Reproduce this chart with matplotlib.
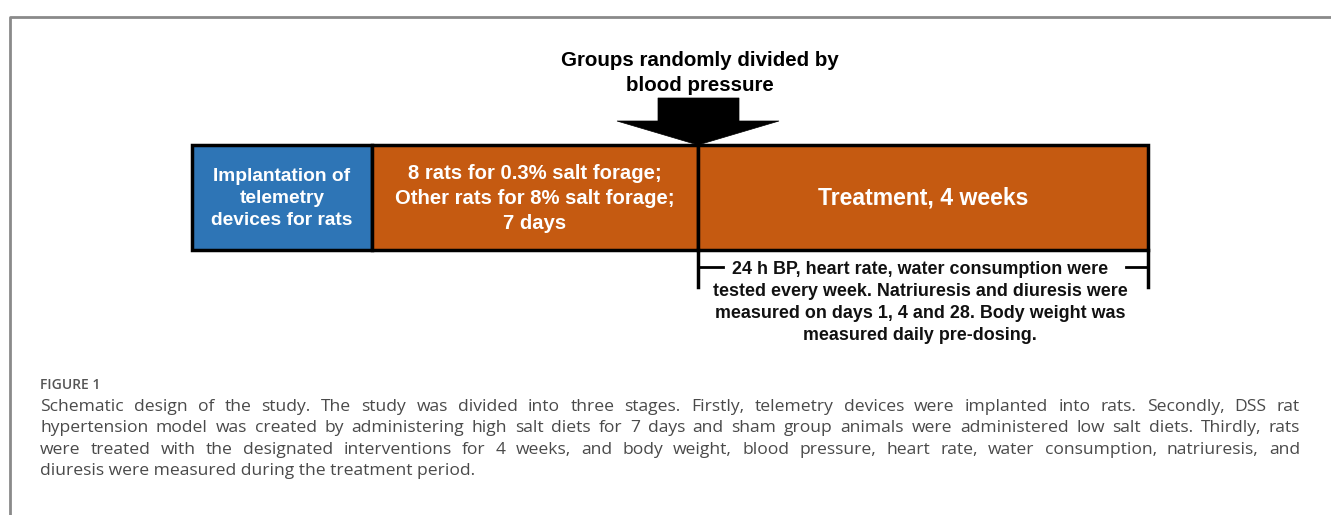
import matplotlib
matplotlib.use('Agg')
import matplotlib.pyplot as plt
from matplotlib.patches import Rectangle, Polygon

# stages of the study (left edge, right edge in px, label, colour)
stage_labels = ['Implantation of\ntelemetry\ndevices for rats',
                '8 rats for 0.3% salt forage;\nOther rats for 8% salt forage;\n7 days',
                'Treatment, 4 weeks']
stage_edges = [192, 372, 698, 1148]
stage_colors = ['#2E75B6', '#C55A11', '#C55A11']
stage_fontsize = [13.8, 14.6, 16.6]

title_text = 'Groups randomly divided by\nblood pressure'
bracket_text = ['24 h BP, heart rate, water consumption were',
                'tested every week. Natriuresis and diuresis were',
                'measured on days 1, 4 and 28. Body weight was',
                'measured daily pre-dosing.']
caption_head = 'FIGURE 1'
caption_lines = [
    'Schematic design of the study. The study was divided into three stages. Firstly, telemetry devices were implanted into rats. Secondly, DSS rat',
    'hypertension model was created by administering high salt diets for 7 days and sham group animals were administered low salt diets. Thirdly, rats',
    'were treated with the designated interventions for 4 weeks, and body weight, blood pressure, heart rate, water consumption, natriuresis, and',
    'diuresis were measured during the treatment period.']

W, H = 1331, 515
fig = plt.figure(figsize=(W / 100, H / 100), dpi=100)
ax = fig.add_axes([0, 0, 1, 1])
ax.set_xlim(0, W)
ax.set_ylim(H, 0)
ax.axis('off')

# page frame
ax.plot([9.5, 9.5, W], [H, 16.5, 16.5], color='#8a8a8a', lw=2, solid_capstyle='butt')

bold = dict(family='Liberation Sans', weight='bold')

# title and arrow
ax.text(700, 73, title_text, ha='center', va='center', fontsize=14.8,
        linespacing=1.38, color='black', **bold)
ax.add_patch(Polygon([[658, 98], [739, 98], [739, 121], [779, 121], [698, 145],
                      [617, 121], [658, 121]], closed=True, fc='black', ec='black', lw=0.5))

# stage boxes
top, bot = 145, 250
for i, lab in enumerate(stage_labels):
    x0, x1 = stage_edges[i], stage_edges[i + 1]
    ax.add_patch(Rectangle((x0, top), x1 - x0, bot - top, fc=stage_colors[i],
                           ec='black', lw=2.5, zorder=2))
    ax.text((x0 + x1) / 2, (top + bot) / 2 + 1, lab, ha='center', va='center',
            fontsize=stage_fontsize[i], color='white', linespacing=1.38, zorder=3, **bold)

# bracket under treatment
bx0, bx1 = stage_edges[2], stage_edges[3]
ax.plot([bx0, bx0], [bot, 287], color='black', lw=2.5)
ax.plot([bx1, bx1], [bot, 287], color='black', lw=2.5)
ax.plot([bx0, 723], [267, 267], color='black', lw=2)
ax.plot([1126, bx1], [267, 267], color='black', lw=2)
for i, line in enumerate(bracket_text):
    ax.text(920, 270 + i * 22, line, ha='center', va='center', fontsize=12.9,
            color='#111111', **bold)

# caption
cap = dict(family='Open Sans', color='#4a4a4a', fontsize=12.6)
ax.text(40, 385, caption_head, ha='left', va='center', family='Open Sans',
        weight='semibold', color='#555555', fontsize=10)

renderer = fig.canvas.get_renderer()
left, right = 40, 1300
for i, line in enumerate(caption_lines):
    y = 407 + i * 21.3
    words = line.split(' ')
    if i == len(caption_lines) - 1:
        ax.text(left, y, line, ha='left', va='center', **cap)
        continue
    arts = [ax.text(0, y, w, ha='left', va='center', **cap) for w in words]
    widths = [a.get_window_extent(renderer).width for a in arts]
    gap = (right - left - sum(widths)) / (len(words) - 1)
    x = left
    for a, w in zip(arts, widths):
        a.set_x(x)
        x += w + gap

fig.savefig('out.png', dpi=100)
